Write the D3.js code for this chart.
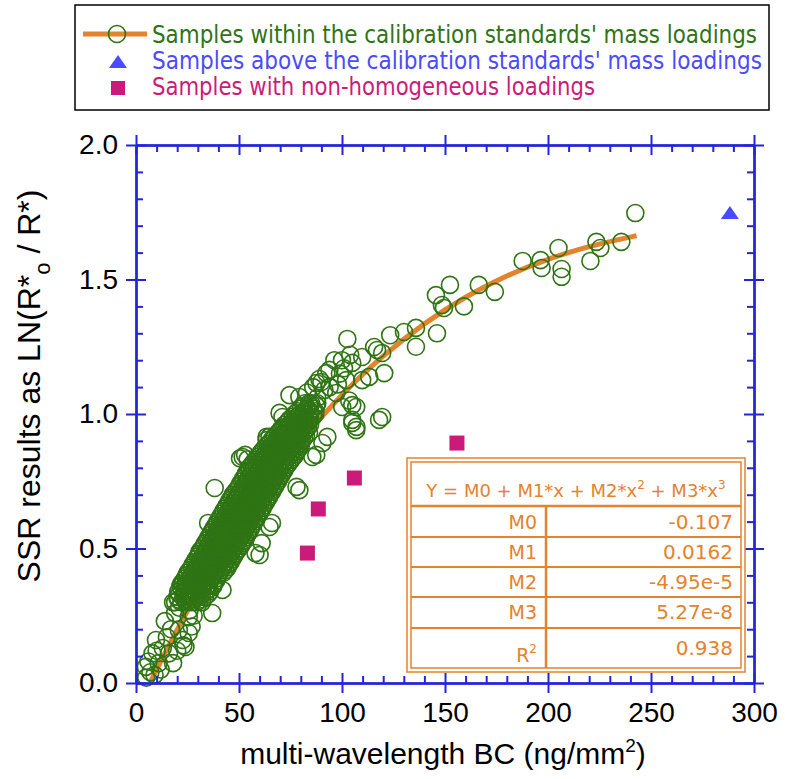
<!DOCTYPE html>
<html>
<head>
<meta charset="utf-8">
<script src="https://cdn.jsdelivr.net/npm/d3@7"></script>
<style>
  body { margin: 0; background: #fff; }
  svg { display: block; }
</style>
</head>
<body>
<div id="chart"></div>
<script>
// samples within the calibration standards' mass loadings (sparse ones, band edges, low tail)
const withinPoints = [
  [242.4,1.747],[235.6,1.64],[223.5,1.64],[225.4,1.617],[220.6,1.569],[205.1,1.617],[206.6,1.539],[206.6,1.51],
  [196.4,1.572],[196.9,1.543],[187.7,1.569],[174.2,1.454],[166.4,1.48],[159.2,1.40],[152.4,1.48],[145.6,1.442],
  [148.5,1.405],[149.5,1.394],[146.1,1.30],[135.9,1.32],[135.9,1.25],[130.1,1.305],[123.4,1.293],[119.5,1.227],
  [120.5,1.152],[119.5,0.989],[118,0.978],
  [102.6,1.279],[115.6,1.249],[117,1.238],[109.8,1.212],[105,1.19],[113.2,1.138],[93.9,1.164],[90,1.119],
  [102,1.126],[109.8,1.126],[106.9,1.026],[105,0.978],[106.9,0.94],[79.3,1.063],[71.1,0.989],[91.4,1.089],
  [97.2,1.078],[100.1,1.026],[92.9,0.915],[64.8,0.915],[74.5,1.07],[69.7,1.004],[63.4,0.915],[92.4,1.152],
  [87.6,1.115],[96.3,1.2],[84,1.04],[88,1.06],[86,1.1],[94,1.1],[99,1.15],[98,1.11],[83,1.08],[89,1.13],
  [101,1.17],[104,1.22],[100,1.2],[103.5,1.05],[105,0.967],
  [38.2,0.725],[50.5,0.835],[51.8,0.84],[53,0.848],[54.2,0.832],[63.4,0.903],[79.3,0.717],[77.9,0.729],
  [66,0.595],[64.8,0.58],[61,0.52],[60,0.476],[58,0.483],[90.5,0.892],[87.5,0.848],[85.6,0.84],[107,0.952],
  [105,1.033],[42,0.346],[37,0.26],[35,0.595],[27.6,0.383],[24.6,0.32],
  [4.8,0.06],[11,0.074],[9.7,0.16],[16,0.11],[22.7,0.16],[20.8,0.197],[25.6,0.245],[24,0.31],[22.7,0.37],
  [5,0.02],[7,0.04],[9,0.03],[6,0.08],[12,0.05],[13,0.13],[8,0.11],[15,0.17],[17,0.2],[14,0.23],[19,0.26],
  [18,0.3],[21,0.28],[26,0.27],[28,0.25],[20,0.12],[23,0.14],[27,0.21],[10,0.12],[25.6,0.186],[24,0.134],[18,0.074]
];

// the dense core of the band, one row per y value: [y, [x values]]
const coreRows = [
  [0.30, [19, 22, 24.5, 27, 29.5, 32]],
  [0.31, [20.5, 23.5, 26, 28.5, 31]],
  [0.32, [20, 23, 25.5, 28, 30.5, 33.5]],
  [0.33, [21, 24, 27, 29.5, 32, 35]],
  [0.34, [20.5, 23.5, 26, 28.5, 31, 34, 36]],
  [0.35, [22, 25, 27.5, 30, 32.5, 35.5]],
  [0.36, [21.5, 24, 27, 29.5, 32, 35, 37.5]],
  [0.37, [22, 24.5, 27.5, 30, 32.5, 35.5, 38]],
  [0.38, [23, 25.5, 28, 31, 33.5, 36, 39]],
  [0.39, [24, 26.5, 29, 31.5, 34, 36.5, 39.5]],
  [0.40, [24.5, 27, 29.5, 32, 35, 37.5, 40]],
  [0.41, [25, 28, 30.5, 33, 35.5, 38, 40.5, 42.5]],
  [0.42, [26, 28.5, 31, 33.5, 36, 39, 41.5, 43.5]],
  [0.43, [27, 29.5, 32, 34.5, 37, 39.5, 42, 44.5]],
  [0.44, [27.5, 30, 32.5, 35, 37.5, 40.5, 43, 45]],
  [0.45, [28.5, 31, 33.5, 36, 38.5, 41, 43.5, 46]],
  [0.46, [29, 31.5, 34, 36.5, 39, 42, 44.5, 46.5]],
  [0.47, [30, 32.5, 35, 37.5, 40, 42.5, 45, 47.5]],
  [0.48, [30.5, 33, 35.5, 38, 40.5, 43.5, 46, 48]],
  [0.49, [31, 34, 36.5, 39, 41.5, 44, 46.5, 49]],
  [0.50, [32, 34.5, 37, 39.5, 42, 45, 47.5, 50]],
  [0.51, [33, 35.5, 38, 40.5, 43, 45.5, 48.5, 51]],
  [0.52, [33.5, 36, 38.5, 41, 43.5, 46.5, 49, 51.5]],
  [0.53, [34.5, 37, 39.5, 42, 44.5, 47, 50, 52.5]],
  [0.54, [35, 37.5, 40, 42.5, 45, 48, 50.5, 53]],
  [0.55, [36, 38.5, 41, 43.5, 46, 48.5, 51.5, 54]],
  [0.56, [36.5, 39, 41.5, 44, 46.5, 49.5, 52, 54.5]],
  [0.57, [37.5, 40, 42.5, 45, 47.5, 50, 53, 55.5]],
  [0.58, [38, 40.5, 43, 45.5, 48, 51, 53.5, 56]],
  [0.59, [39, 41.5, 44, 46.5, 49, 51.5, 54.5, 57]],
  [0.60, [39.5, 42, 44.5, 47, 49.5, 52.5, 55, 57.5]],
  [0.61, [40.5, 43, 45.5, 48, 50.5, 53, 56, 58.5]],
  [0.62, [41, 43.5, 46, 48.5, 51, 54, 56.5, 59]],
  [0.63, [42, 44.5, 47, 49.5, 52, 54.5, 57.5, 60]],
  [0.64, [42.5, 45, 47.5, 50, 52.5, 55.5, 58, 60.5]],
  [0.65, [43.5, 46, 48.5, 51, 53.5, 56, 59, 61.5]],
  [0.66, [44, 46.5, 49, 51.5, 54, 57, 59.5, 62]],
  [0.67, [45, 47.5, 50, 52.5, 55, 57.5, 60.5, 63]],
  [0.68, [45.5, 48, 50.5, 53, 55.5, 58.5, 61, 63.5]],
  [0.69, [46.5, 49, 51.5, 54, 56.5, 59, 62, 64.5]],
  [0.70, [47, 49.5, 52, 54.5, 57, 60, 62.5, 65]],
  [0.71, [48, 50.5, 53, 55.5, 58, 60.5, 63.5, 66]],
  [0.72, [49, 51.5, 54, 56.5, 59, 61.5, 64, 66.5]],
  [0.73, [50, 52.5, 55, 57.5, 60, 62.5, 65, 67.5]],
  [0.74, [50.5, 53, 55.5, 58, 60.5, 63, 65.5, 68]],
  [0.75, [51.5, 54, 56.5, 59, 61.5, 64, 66.5, 69]],
  [0.76, [52, 54.5, 57, 59.5, 62, 64.5, 67, 69.5]],
  [0.77, [53, 55.5, 58, 60.5, 63, 65.5, 68, 70.5]],
  [0.78, [53.5, 56, 58.5, 61, 63.5, 66, 68.5, 71]],
  [0.79, [54.5, 57, 59.5, 62, 64.5, 67, 69.5, 72]],
  [0.80, [55, 57.5, 60, 62.5, 65, 67.5, 70, 72.5]],
  [0.81, [56, 58.5, 61, 63.5, 66, 68.5, 71, 73.5]],
  [0.82, [57, 59.5, 62, 64.5, 67, 69.5, 72, 74.5]],
  [0.83, [58, 60.5, 63, 65.5, 68, 70.5, 73, 75.5]],
  [0.84, [59, 61.5, 64, 66.5, 69, 71.5, 74, 76.5]],
  [0.85, [60, 62.5, 65, 67.5, 70, 72.5, 75, 77.5]],
  [0.86, [61, 63.5, 66, 68.5, 71, 73.5, 76, 78]],
  [0.87, [62, 64.5, 67, 69.5, 72, 74.5, 77, 79]],
  [0.88, [63, 65.5, 68, 70.5, 73, 75.5, 78, 80]],
  [0.89, [64.5, 67, 69.5, 72, 74.5, 77, 79.5]],
  [0.90, [65.5, 68, 70.5, 73, 75.5, 78, 80.5]],
  [0.91, [66.5, 69, 71.5, 74, 76.5, 79, 81.5]],
  [0.92, [67.5, 70, 72.5, 75, 77.5, 80, 82.5]],
  [0.93, [69, 71.5, 74, 76.5, 79, 81.5, 84]],
  [0.94, [70, 72.5, 75, 77.5, 80, 82.5]],
  [0.95, [71, 73.5, 76, 78.5, 81, 83.5]],
  [0.96, [72, 74.5, 77, 79.5, 82, 84.5]],
  [0.97, [73.5, 76, 78.5, 81, 83.5]],
  [0.98, [74.5, 77, 79.5, 82, 84.5]],
  [0.99, [76, 78.5, 81, 83.5, 86]],
  [1.00, [77, 79.5, 82, 84.5, 87]],
  [1.01, [78.5, 81.5, 84.5, 87]],
  [1.02, [80, 83, 86]],
  [1.03, [81.5, 84.5, 87.5]],
  [1.04, [82, 85, 88]]
];

// samples above the calibration standards' mass loadings
const aboveX = [288.3];
const aboveY = [1.747];

// samples with non-homogeneous loadings
const nonHomX = [83.2, 88.5, 106, 155.8];
const nonHomY = [0.483, 0.647, 0.762, 0.892];

// cubic fit
const fitX = [7, 10, 20, 30, 40, 50, 60, 70, 80, 90, 100, 120, 140, 160, 180, 200, 220, 243];
const fitY = [0.004, 0.050, 0.198, 0.336, 0.465, 0.586, 0.698, 0.803, 0.899, 0.988, 1.071, 1.215, 1.335, 1.434, 1.513, 1.575, 1.622, 1.663];

const xMajor = [0, 50, 100, 150, 200, 250, 300];
const xMinor = [10, 20, 30, 40, 60, 70, 80, 90, 110, 120, 130, 140, 160, 170, 180, 190, 210, 220, 230, 240, 260, 270, 280, 290];
const yMajor = [0, 0.5, 1.0, 1.5, 2.0];
const yMinor = [0.1, 0.2, 0.3, 0.4, 0.6, 0.7, 0.8, 0.9, 1.1, 1.2, 1.3, 1.4, 1.6, 1.7, 1.8, 1.9];

const legendLabels = [
  "Samples within the calibration standards' mass loadings",
  "Samples above the calibration standards' mass loadings",
  "Samples with non-homogeneous loadings"
];

const fitRows = [["M0", "-0.107"], ["M1", "0.0162"], ["M2", "-4.95e-5"], ["M3", "5.27e-8"], ["R", "0.938"]];

const green = "#2f7414", blue = "#4a4aff", magenta = "#cc1a7a", orange = "#e5822c", axisBlue = "#2424dc";

const width = 785, height = 779;

const svg = d3.select("#chart").append("svg")
    .attr("width", width)
    .attr("height", height);

const x = d3.scaleLinear().domain([0, 300]).range([136, 754]);
const y = d3.scaleLinear().domain([0, 2]).range([683, 145]);

// all "within" samples together
let within = withinPoints.map(d => ({x: d[0], y: d[1]}));
coreRows.forEach(r => r[1].forEach(v => within.push({x: v, y: r[0]})));

// fit line under the circles
const line = d3.line()
    .x(d => x(d[0]))
    .y(d => y(d[1]))
    .curve(d3.curveMonotoneX);

svg.append("path")
    .attr("d", line(fitX.map((v, i) => [v, fitY[i]])))
    .attr("fill", "none")
    .attr("stroke", orange)
    .attr("stroke-width", 5);

svg.append("g").selectAll("circle")
    .data(within)
    .join("circle")
        .attr("cx", d => x(d.x))
        .attr("cy", d => y(d.y))
        .attr("r", 8.5)
        .attr("fill", "none")
        .attr("stroke", green)
        .attr("stroke-width", 1.6);

svg.append("g").selectAll("rect")
    .data(nonHomX.map((v, i) => ({x: v, y: nonHomY[i]})))
    .join("rect")
        .attr("x", d => x(d.x) - 7.5)
        .attr("y", d => y(d.y) - 7.5)
        .attr("width", 15)
        .attr("height", 15)
        .attr("fill", magenta);

svg.append("g").selectAll("path")
    .data(aboveX.map((v, i) => ({x: v, y: aboveY[i]})))
    .join("path")
        .attr("transform", d => "translate(" + x(d.x) + "," + y(d.y) + ")")
        .attr("d", "M0,-7L9,6L-9,6Z")
        .attr("fill", blue);

// axes: major ticks cross the axis line, minor ticks point inward, mirrored on all sides
function addAxis(axis, transform, labels) {
    const g = svg.append("g")
        .attr("transform", transform)
        .call(axis);
    g.selectAll("path, line").attr("stroke", axisBlue).attr("stroke-width", 2);
    if (!labels) g.selectAll("text").remove();
    else g.selectAll("text")
        .attr("fill", "#000")
        .style("font-family", "'Liberation Sans', Arial, sans-serif")
        .style("font-size", "28px");
    return g;
}

addAxis(d3.axisBottom(x).tickValues(xMajor).tickSize(10).tickSizeOuter(0).tickPadding(9).tickFormat(d3.format("d")), "translate(0,683)", true);
addAxis(d3.axisBottom(x).tickValues(xMajor).tickSize(-10).tickSizeOuter(0), "translate(0,683)", false);
addAxis(d3.axisBottom(x).tickValues(xMinor).tickSize(-7).tickSizeOuter(0), "translate(0,683)", false);
addAxis(d3.axisTop(x).tickValues(xMajor).tickSize(10).tickSizeOuter(0), "translate(0,145)", false);
addAxis(d3.axisTop(x).tickValues(xMajor).tickSize(-10).tickSizeOuter(0), "translate(0,145)", false);
addAxis(d3.axisTop(x).tickValues(xMinor).tickSize(-7).tickSizeOuter(0), "translate(0,145)", false);

addAxis(d3.axisLeft(y).tickValues(yMajor).tickSize(10).tickSizeOuter(0).tickPadding(8).tickFormat(d3.format(".1f")), "translate(136,0)", true);
addAxis(d3.axisLeft(y).tickValues(yMajor).tickSize(-10).tickSizeOuter(0), "translate(136,0)", false);
addAxis(d3.axisLeft(y).tickValues(yMinor).tickSize(-7).tickSizeOuter(0), "translate(136,0)", false);
addAxis(d3.axisRight(y).tickValues(yMajor).tickSize(10).tickSizeOuter(0), "translate(754,0)", false);
addAxis(d3.axisRight(y).tickValues(yMajor).tickSize(-10).tickSizeOuter(0), "translate(754,0)", false);
addAxis(d3.axisRight(y).tickValues(yMinor).tickSize(-7).tickSizeOuter(0), "translate(754,0)", false);

// axis titles
const xTitle = svg.append("text")
    .attr("x", 443)
    .attr("y", 764)
    .attr("text-anchor", "middle")
    .style("font-family", "'Liberation Sans', Arial, sans-serif")
    .style("font-size", "30px")
    .text("multi-wavelength BC (ng/mm");
xTitle.append("tspan").attr("dy", -12).style("font-size", "19px").text("2");
xTitle.append("tspan").attr("dy", 12).text(")");

const yTitle = svg.append("text")
    .attr("transform", "translate(40,386) rotate(-90)")
    .attr("text-anchor", "middle")
    .style("font-family", "'Liberation Sans', Arial, sans-serif")
    .style("font-size", "32px")
    .text("SSR results as LN(R*");
yTitle.append("tspan").attr("dy", 10).style("font-size", "22px").text("o");
yTitle.append("tspan").attr("dy", -10).text(" / R*)");

// legend
const legend = svg.append("g");
legend.append("rect")
    .attr("x", 75).attr("y", 5)
    .attr("width", 694).attr("height", 105)
    .attr("fill", "#fff")
    .attr("stroke", "#000")
    .attr("stroke-width", 1.5);

legend.append("line")
    .attr("x1", 83).attr("x2", 147)
    .attr("y1", 34).attr("y2", 34)
    .attr("stroke", orange)
    .attr("stroke-width", 5);
legend.append("circle")
    .attr("cx", 117).attr("cy", 34).attr("r", 8.5)
    .attr("fill", "none").attr("stroke", green).attr("stroke-width", 1.6);
legend.append("path")
    .attr("transform", "translate(118,62)")
    .attr("d", "M0,-7L9,6L-9,6Z")
    .attr("fill", blue);
legend.append("rect")
    .attr("x", 111).attr("y", 81).attr("width", 14).attr("height", 14)
    .attr("fill", magenta);

const legendColors = [green, blue, magenta];
const legendLengths = [605, 610, 443];
legend.selectAll("text.lab")
    .data(legendLabels)
    .join("text")
        .attr("class", "lab")
        .attr("x", 152)
        .attr("y", (d, i) => 43 + i * 26)
        .attr("fill", (d, i) => legendColors[i])
        .attr("textLength", (d, i) => legendLengths[i])
        .attr("lengthAdjust", "spacingAndGlyphs")
        .style("font-family", "'DejaVu Sans Condensed', 'DejaVu Sans', sans-serif")
        .style("font-size", "24px")
        .text(d => d);

// fit coefficient table
const tbl = svg.append("g");
const tFont = "'DejaVu Sans', Verdana, sans-serif";
tbl.append("rect").attr("x", 407).attr("y", 458).attr("width", 338).attr("height", 214)
    .attr("fill", "#fff").attr("stroke", orange).attr("stroke-width", 1.5);
tbl.append("rect").attr("x", 411).attr("y", 462).attr("width", 330).attr("height", 206)
    .attr("fill", "none").attr("stroke", orange).attr("stroke-width", 1.5);
const rowLines = [506, 537, 567, 597, 628];
tbl.selectAll("line.row")
    .data(rowLines)
    .join("line")
        .attr("class", "row")
        .attr("x1", 411).attr("x2", 741)
        .attr("y1", d => d).attr("y2", d => d)
        .attr("stroke", orange)
        .attr("stroke-width", (d, i) => i === 0 ? 2.5 : 2);
tbl.append("line").attr("x1", 546).attr("x2", 546).attr("y1", 506).attr("y2", 668)
    .attr("stroke", orange).attr("stroke-width", 2.5);

const head = tbl.append("text")
    .attr("x", 576).attr("y", 497)
    .attr("text-anchor", "middle")
    .attr("fill", orange)
    .style("font-family", tFont)
    .style("font-size", "18px")
    .text("Y = M0 + M1*x + M2*x");
head.append("tspan").attr("dy", -8).style("font-size", "12px").text("2");
head.append("tspan").attr("dy", 8).text(" + M3*x");
head.append("tspan").attr("dy", -8).style("font-size", "12px").text("3");

const rowBase = [529, 559, 589, 619, 662];
fitRows.forEach((r, i) => {
    const lab = tbl.append("text")
        .attr("x", 537).attr("y", rowBase[i])
        .attr("text-anchor", "end")
        .attr("fill", orange)
        .style("font-family", tFont)
        .style("font-size", "19px")
        .text(r[0]);
    if (r[0] === "R") lab.append("tspan").attr("dy", -9).style("font-size", "12px").text("2");
    tbl.append("text")
        .attr("x", 733).attr("y", i === 4 ? 655 : rowBase[i])
        .attr("text-anchor", "end")
        .attr("fill", orange)
        .style("font-family", tFont)
        .style("font-size", "20px")
        .text(r[1]);
});
</script>
</body>
</html>
